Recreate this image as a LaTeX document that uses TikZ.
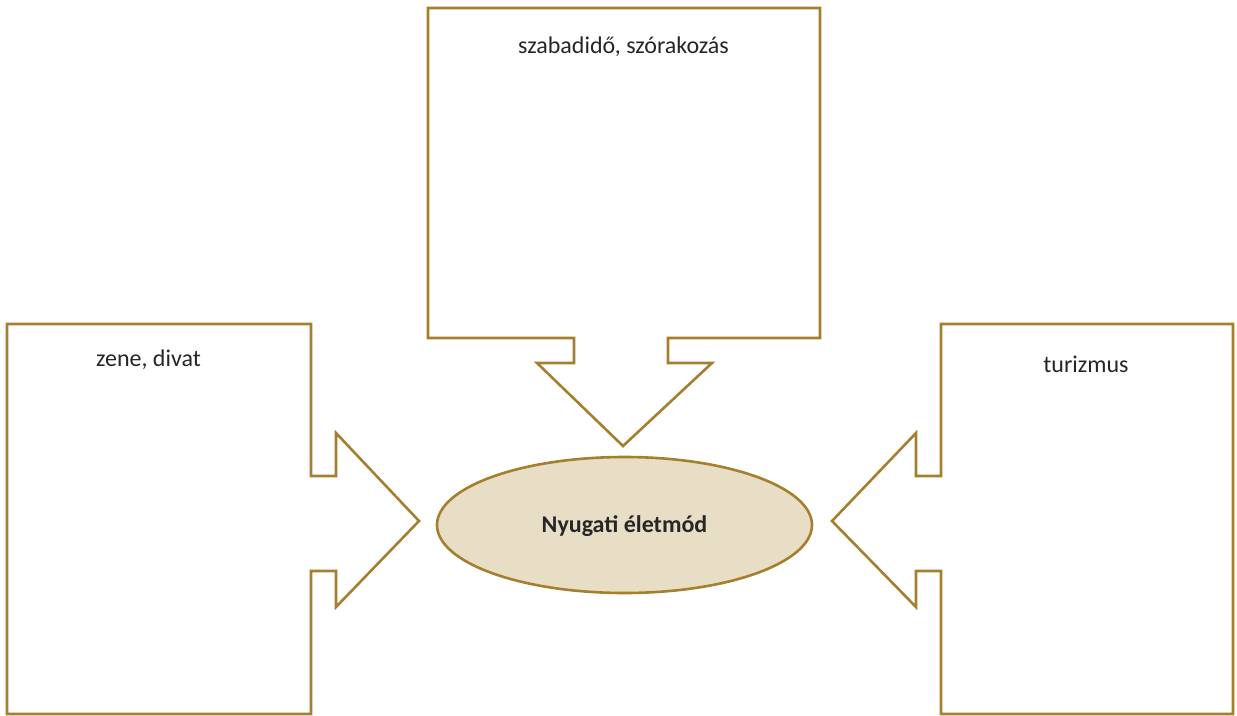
\documentclass[tikz,border=0pt]{standalone}
\usepackage{fontspec}
\setmainfont{Carlito}
\usetikzlibrary{shapes.geometric}
\definecolor{gold}{HTML}{A57F2E}
\definecolor{beige}{HTML}{E8DDC5}
\definecolor{ink}{HTML}{262626}
\tikzset{
  callout/.style={draw=gold, line width=2.6pt, line join=miter, fill=white},
  lbl/.style={text=ink, font=\fontsize{24}{28}\selectfont, inner sep=0pt},
}
\begin{document}
\begin{tikzpicture}[x=1pt,y=-1pt]
\useasboundingbox (0,0) rectangle (1237,715);
% top callout
\draw[callout] (428,8) -- (820,8) -- (820,338) -- (668,338) -- (668,363) -- (712,363)
  -- (623,446) -- (537,363) -- (574,363) -- (574,338) -- (428,338) -- cycle;
% left callout
\draw[callout] (7,324) -- (311,324) -- (311,476) -- (336,476) -- (336,433)
  -- (419,521) -- (336,607) -- (336,571) -- (311,571) -- (311,714) -- (7,714) -- cycle;
% right callout
\draw[callout] (1233,324) -- (941,324) -- (941,476) -- (916,476) -- (916,433)
  -- (832,521) -- (916,607) -- (916,571) -- (941,571) -- (941,714) -- (1233,714) -- cycle;
% ellipse
\node[ellipse, draw=gold, line width=2.6pt, fill=beige, minimum width=375pt, minimum height=136pt, inner sep=0pt] (core) at (624.5,525) {};
\node[lbl, font=\fontsize{24}{28}\selectfont\bfseries] (t0) at (624.5,526) {Nyugati életmód};
\node[lbl] (t1) at (623.5,47) {szabadidő, szórakozás};
\node[lbl] (t2) at (148.5,360) {zene, divat};
\node[lbl] (t3) at (1086,364) {turizmus};
\end{tikzpicture}
\end{document}
